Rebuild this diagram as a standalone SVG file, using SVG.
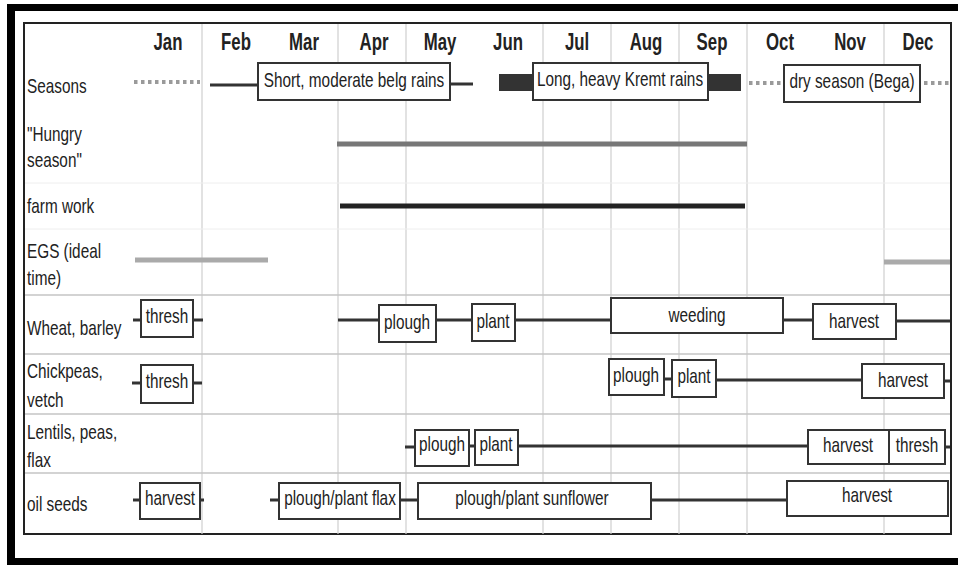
<svg xmlns="http://www.w3.org/2000/svg" width="958" height="565" viewBox="0 0 958 565">
<style>
text{font-family:"Liberation Sans",Arial,sans-serif;font-size:21px;fill:#222}
.m{font-weight:bold;font-size:23px;text-anchor:middle}
.c{text-anchor:middle}
.box{fill:#fff;stroke:#333;stroke-width:2}
.ln{stroke:#333;stroke-width:3;fill:none}
.grid{stroke:#cfcfcf;stroke-width:1.2}
.row{stroke:#c4c4c4;stroke-width:1.5}
.dot{stroke:#9a9a9a;stroke-width:4;stroke-dasharray:3.5,3.5}
</style>
<rect x="0" y="0" width="958" height="565" fill="#fff"/>
<g id="frame">
<rect x="7" y="4" width="951" height="7" fill="#000"/>
<rect x="7" y="4" width="8" height="561" fill="#000"/>
<rect x="7" y="558" width="951" height="7" fill="#000"/>
<rect x="24" y="23" width="927" height="511" fill="none" stroke="#222" stroke-width="2"/>
</g>
<g id="grid">
<line class="grid" x1="202" y1="24" x2="202" y2="534"/>
<line class="grid" x1="338" y1="24" x2="338" y2="534"/>
<line class="grid" x1="406" y1="24" x2="406" y2="534"/>
<line class="grid" x1="543" y1="24" x2="543" y2="534"/>
<line class="grid" x1="611" y1="24" x2="611" y2="534"/>
<line class="grid" x1="679" y1="24" x2="679" y2="534"/>
<line class="grid" x1="747" y1="24" x2="747" y2="534"/>
<line class="grid" x1="884" y1="24" x2="884" y2="534"/>
<line stroke="#eeeeee" stroke-width="1" x1="25" y1="183" x2="950" y2="183"/>
<line stroke="#eeeeee" stroke-width="1" x1="25" y1="229" x2="950" y2="229"/>
<line class="row" x1="25" y1="295" x2="950" y2="295"/>
<line class="row" x1="25" y1="354" x2="950" y2="354"/>
<line class="row" x1="25" y1="414" x2="950" y2="414"/>
<line class="row" x1="25" y1="473" x2="950" y2="473"/>
</g>
<g id="months">
<text class="m" transform="translate(168,50) scale(0.73,1)">Jan</text>
<text class="m" transform="translate(236,50) scale(0.73,1)">Feb</text>
<text class="m" transform="translate(304,50) scale(0.73,1)">Mar</text>
<text class="m" transform="translate(374,50) scale(0.73,1)">Apr</text>
<text class="m" transform="translate(440,50) scale(0.73,1)">May</text>
<text class="m" transform="translate(508,50) scale(0.73,1)">Jun</text>
<text class="m" transform="translate(577,50) scale(0.73,1)">Jul</text>
<text class="m" transform="translate(646,50) scale(0.73,1)">Aug</text>
<text class="m" transform="translate(712,50) scale(0.73,1)">Sep</text>
<text class="m" transform="translate(780,50) scale(0.73,1)">Oct</text>
<text class="m" transform="translate(850,50) scale(0.73,1)">Nov</text>
<text class="m" transform="translate(918,50) scale(0.73,1)">Dec</text>
</g>
<g id="row-labels">
<text transform="translate(27,93) scale(0.73,1)">Seasons</text>
<text transform="translate(27,141) scale(0.73,1)">"Hungry</text>
<text transform="translate(27,167) scale(0.73,1)">season"</text>
<text transform="translate(27,213) scale(0.73,1)">farm work</text>
<text transform="translate(27,258) scale(0.73,1)">EGS (ideal</text>
<text transform="translate(27,285) scale(0.73,1)">time)</text>
<text transform="translate(27,335) scale(0.73,1)">Wheat, barley</text>
<text transform="translate(27,378) scale(0.73,1)">Chickpeas,</text>
<text transform="translate(27,407) scale(0.73,1)">vetch</text>
<text transform="translate(27,439) scale(0.73,1)">Lentils, peas,</text>
<text transform="translate(27,467) scale(0.73,1)">flax</text>
<text transform="translate(27,511) scale(0.73,1)">oil seeds</text>
</g>
<g id="connectors">
<line class="dot" x1="134" y1="82" x2="200" y2="82"/>
<line class="ln" x1="210" y1="85" x2="258" y2="85"/>
<line class="ln" x1="450" y1="84" x2="473" y2="84"/>
<rect x="499" y="74" width="34" height="17" fill="#333"/>
<rect x="708" y="74" width="33" height="17" fill="#333"/>
<line class="dot" x1="749" y1="83" x2="784" y2="83"/>
<line class="dot" x1="924" y1="83" x2="949" y2="83"/>
<line stroke="#777" stroke-width="5" x1="337" y1="144" x2="747" y2="144"/>
<line stroke="#222" stroke-width="5" x1="340" y1="206" x2="745" y2="206"/>
<line stroke="#aaa" stroke-width="5" x1="135" y1="260" x2="268" y2="260"/>
<line stroke="#aaa" stroke-width="5" x1="884" y1="262" x2="950" y2="262"/>
<line class="ln" x1="133" y1="320" x2="141" y2="320"/>
<line class="ln" x1="193" y1="320" x2="203" y2="320"/>
<line class="ln" x1="338" y1="320" x2="379" y2="320"/>
<line class="ln" x1="436" y1="320" x2="472" y2="320"/>
<line class="ln" x1="515" y1="320" x2="611" y2="320"/>
<line class="ln" x1="783" y1="320" x2="813" y2="320"/>
<line class="ln" x1="896" y1="321" x2="950" y2="321"/>
<line class="ln" x1="132" y1="383" x2="141" y2="383"/>
<line class="ln" x1="193" y1="383" x2="202" y2="383"/>
<line class="ln" x1="664" y1="379" x2="672" y2="379"/>
<line class="ln" x1="716" y1="380" x2="862" y2="380"/>
<line class="ln" x1="944" y1="381" x2="950" y2="381"/>
<line class="ln" x1="405" y1="447" x2="415" y2="447"/>
<line class="ln" x1="469" y1="446" x2="475" y2="446"/>
<line class="ln" x1="518" y1="446" x2="808" y2="446"/>
<line class="ln" x1="945" y1="447" x2="950" y2="447"/>
<line class="ln" x1="133" y1="500" x2="140" y2="500"/>
<line class="ln" x1="200" y1="500" x2="204" y2="500"/>
<line class="ln" x1="270" y1="500" x2="279" y2="500"/>
<line class="ln" x1="400" y1="500" x2="418" y2="500"/>
<line class="ln" x1="651" y1="500" x2="787" y2="500"/>
</g>
<g id="belg"><rect class="box" x="258" y="63" width="192" height="37"/><text class="c" transform="translate(354,87) scale(0.73,1)">Short, moderate belg rains</text></g>
<g id="kremt"><rect class="box" x="533" y="63" width="175" height="37"/><text class="c" transform="translate(620,86) scale(0.73,1)">Long, heavy Kremt rains</text></g>
<g id="bega"><rect class="box" x="784" y="65" width="136" height="37"/><text class="c" transform="translate(852,88) scale(0.73,1)">dry season (Bega)</text></g>
<g id="wheat-thresh"><rect class="box" x="141" y="300" width="52" height="37"/><text class="c" transform="translate(167,323) scale(0.73,1)">thresh</text></g>
<g id="wheat-plough"><rect class="box" x="379" y="305" width="57" height="37"/><text class="c" transform="translate(407,329) scale(0.73,1)">plough</text></g>
<g id="wheat-plant"><rect class="box" x="472" y="304" width="43" height="37"/><text class="c" transform="translate(493,328) scale(0.73,1)">plant</text></g>
<g id="wheat-weeding"><rect class="box" x="611" y="298" width="172" height="35"/><text class="c" transform="translate(697,322) scale(0.73,1)">weeding</text></g>
<g id="wheat-harvest"><rect class="box" x="813" y="304" width="83" height="35"/><text class="c" transform="translate(854,328) scale(0.73,1)">harvest</text></g>
<g id="chick-thresh"><rect class="box" x="141" y="365" width="52" height="38"/><text class="c" transform="translate(167,388) scale(0.73,1)">thresh</text></g>
<g id="chick-plough"><rect class="box" x="609" y="359" width="55" height="36"/><text class="c" transform="translate(636,382) scale(0.73,1)">plough</text></g>
<g id="chick-plant"><rect class="box" x="672" y="360" width="44" height="37"/><text class="c" transform="translate(694,383) scale(0.73,1)">plant</text></g>
<g id="chick-harvest"><rect class="box" x="862" y="364" width="82" height="34"/><text class="c" transform="translate(903,387) scale(0.73,1)">harvest</text></g>
<g id="lentil-plough"><rect class="box" x="415" y="430" width="54" height="36"/><text class="c" transform="translate(442,451) scale(0.73,1)">plough</text></g>
<g id="lentil-plant"><rect class="box" x="475" y="430" width="43" height="35"/><text class="c" transform="translate(496,451) scale(0.73,1)">plant</text></g>
<g id="lentil-harvest-thresh"><rect class="box" x="808" y="430" width="137" height="34"/><line x1="889" y1="430" x2="889" y2="464" stroke="#333" stroke-width="2"/><text class="c" transform="translate(848,452) scale(0.73,1)">harvest</text><text class="c" transform="translate(917,452) scale(0.73,1)">thresh</text></g>
<g id="oil-harvest"><rect class="box" x="140" y="483" width="60" height="36"/><text class="c" transform="translate(170,505) scale(0.73,1)">harvest</text></g>
<g id="oil-flax"><rect class="box" x="279" y="483" width="121" height="36"/><text class="c" transform="translate(340,505) scale(0.73,1)">plough/plant flax</text></g>
<g id="oil-sunflower"><rect class="box" x="418" y="483" width="233" height="36"/><text class="c" transform="translate(532,505) scale(0.73,1)">plough/plant sunflower</text></g>
<g id="oil-harvest2"><rect class="box" x="787" y="481" width="161" height="35"/><text class="c" transform="translate(867,502) scale(0.73,1)">harvest</text></g>
</svg>
